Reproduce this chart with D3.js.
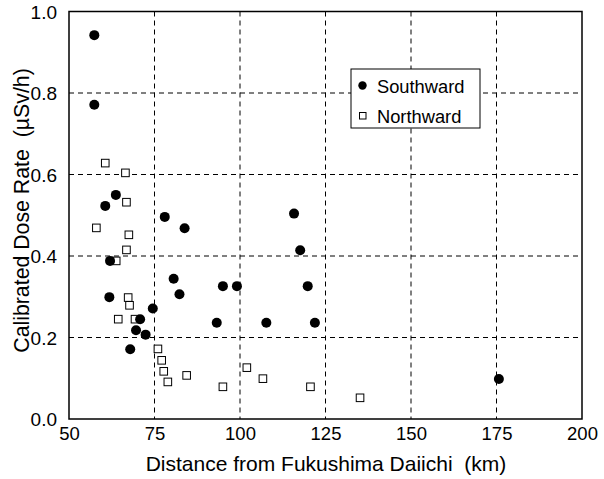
<!DOCTYPE html>
<html>
<head>
<meta charset="utf-8">
<script src="https://cdn.jsdelivr.net/npm/d3@7"></script>
<style>
  html, body { margin: 0; padding: 0; background: #fff; }
  svg { display: block; }
  text { font-family: "Liberation Sans", Arial, Helvetica, sans-serif; fill: #000; }
</style>
</head>
<body>
<svg id="chart" width="604" height="479"></svg>
<script>
// Southward route: distance (km) and calibrated dose rate (µSv/h)
const southDist = [57.4, 57.4, 63.7, 60.6, 78.0, 83.8, 62.0, 80.6, 82.3, 61.8, 74.5, 70.8, 69.6, 72.4, 67.9,
                   115.8, 117.6, 95.0, 99.1, 119.8, 93.2, 107.7, 121.9, 175.7];
const southDose = [0.942, 0.771, 0.550, 0.523, 0.496, 0.468, 0.388, 0.344, 0.306, 0.299, 0.271, 0.245, 0.218, 0.207, 0.171,
                   0.504, 0.414, 0.326, 0.326, 0.326, 0.236, 0.236, 0.236, 0.098];

// Northward route
const northDist = [60.6, 66.5, 66.8, 58.0, 67.5, 66.8, 63.8, 67.3, 67.7, 64.4, 69.3, 76.0, 77.1, 77.7, 78.9, 84.4,
                   102.0, 106.7, 95.0, 120.6, 135.1];
const northDose = [0.628, 0.604, 0.532, 0.469, 0.452, 0.415, 0.388, 0.298, 0.279, 0.245, 0.245, 0.172, 0.144, 0.117, 0.091, 0.107,
                   0.126, 0.099, 0.079, 0.079, 0.052];

const xTicks = [50, 75, 100, 125, 150, 175, 200];
const yTicks = [0.0, 0.2, 0.4, 0.6, 0.8, 1.0];
const xTitle = "Distance from Fukushima Daiichi\u00a0\u00a0(km)";
const yTitle = "Calibrated Dose Rate\u00a0\u00a0(\u00b5Sv/h)";
const seriesNames = ["Southward", "Northward"];

const svg = d3.select("#chart");
const m = { left: 69, right: 582, top: 11.5, bottom: 419 };

const x = d3.scaleLinear().domain([50, 200]).range([m.left, m.right]);
const y = d3.scaleLinear().domain([0, 1]).range([m.bottom, m.top]);

// dashed grid at interior ticks
const grid = svg.append("g").attr("stroke", "#000").attr("stroke-width", 1).attr("stroke-dasharray", "5,4");
grid.selectAll("line.v").data(xTicks.slice(1, -1)).join("line")
  .attr("x1", d => x(d)).attr("x2", d => x(d)).attr("y1", m.top).attr("y2", m.bottom);
grid.selectAll("line.h").data(yTicks.slice(1, -1)).join("line")
  .attr("x1", m.left).attr("x2", m.right).attr("y1", d => y(d)).attr("y2", d => y(d));

// axes (labels only, frame drawn separately)
const xAxis = d3.axisBottom(x).tickValues(xTicks).tickSize(0).tickPadding(0).tickFormat(d3.format("d"));
const gx = svg.append("g").attr("transform", `translate(0,${m.bottom})`).call(xAxis);
gx.select(".domain").remove();
gx.selectAll("text").attr("font-size", 18.5).attr("dy", null).attr("y", 21)
  .attr("font-family", "Liberation Sans, Arial, sans-serif").attr("fill", "#000");

const yAxis = d3.axisLeft(y).tickValues(yTicks).tickSize(0).tickPadding(0).tickFormat(d3.format(".1f"));
const gy = svg.append("g").attr("transform", `translate(${m.left},0)`).call(yAxis);
gy.select(".domain").remove();
gy.selectAll("text").attr("font-size", 19).attr("x", -12).attr("dy", "0.36em")
  .attr("font-family", "Liberation Sans, Arial, sans-serif").attr("fill", "#000");

// plot frame
svg.append("rect").attr("x", m.left).attr("y", m.top)
  .attr("width", m.right - m.left).attr("height", m.bottom - m.top)
  .attr("fill", "none").attr("stroke", "#000").attr("stroke-width", 1.5);

// axis titles
svg.append("text").attr("x", (m.left + m.right) / 2 + 0.5).attr("y", 471)
  .attr("text-anchor", "middle").attr("font-size", 21).text(xTitle);
svg.append("text").attr("transform", `translate(28.5,210.5) rotate(-90)`)
  .attr("text-anchor", "middle").attr("font-size", 21.3).text(yTitle);

// data points
const south = southDist.map((d, i) => ({ d, v: southDose[i] }));
const north = northDist.map((d, i) => ({ d, v: northDose[i] }));

svg.append("g").selectAll("rect").data(north).join("rect")
  .attr("x", p => x(p.d) - 3.8).attr("y", p => y(p.v) - 3.8)
  .attr("width", 7.6).attr("height", 7.6)
  .attr("fill", "#fff").attr("stroke", "#000").attr("stroke-width", 1);

svg.append("g").selectAll("circle").data(south).join("circle")
  .attr("cx", p => x(p.d)).attr("cy", p => y(p.v)).attr("r", 5).attr("fill", "#000");

// legend
const lg = svg.append("g");
lg.append("rect").attr("x", 351).attr("y", 69).attr("width", 129).attr("height", 59)
  .attr("fill", "#fff").attr("stroke", "#000").attr("stroke-width", 1);
lg.append("circle").attr("cx", 362.5).attr("cy", 85.5).attr("r", 4.2).attr("fill", "#000");
lg.append("rect").attr("x", 359.5).attr("y", 112.5).attr("width", 6.5).attr("height", 6.5)
  .attr("fill", "#fff").attr("stroke", "#000").attr("stroke-width", 1);
lg.append("text").attr("x", 377).attr("y", 92.5).attr("font-size", 18.3).text(seriesNames[0]);
lg.append("text").attr("x", 377).attr("y", 122.5).attr("font-size", 18.3).text(seriesNames[1]);
</script>
</body>
</html>
